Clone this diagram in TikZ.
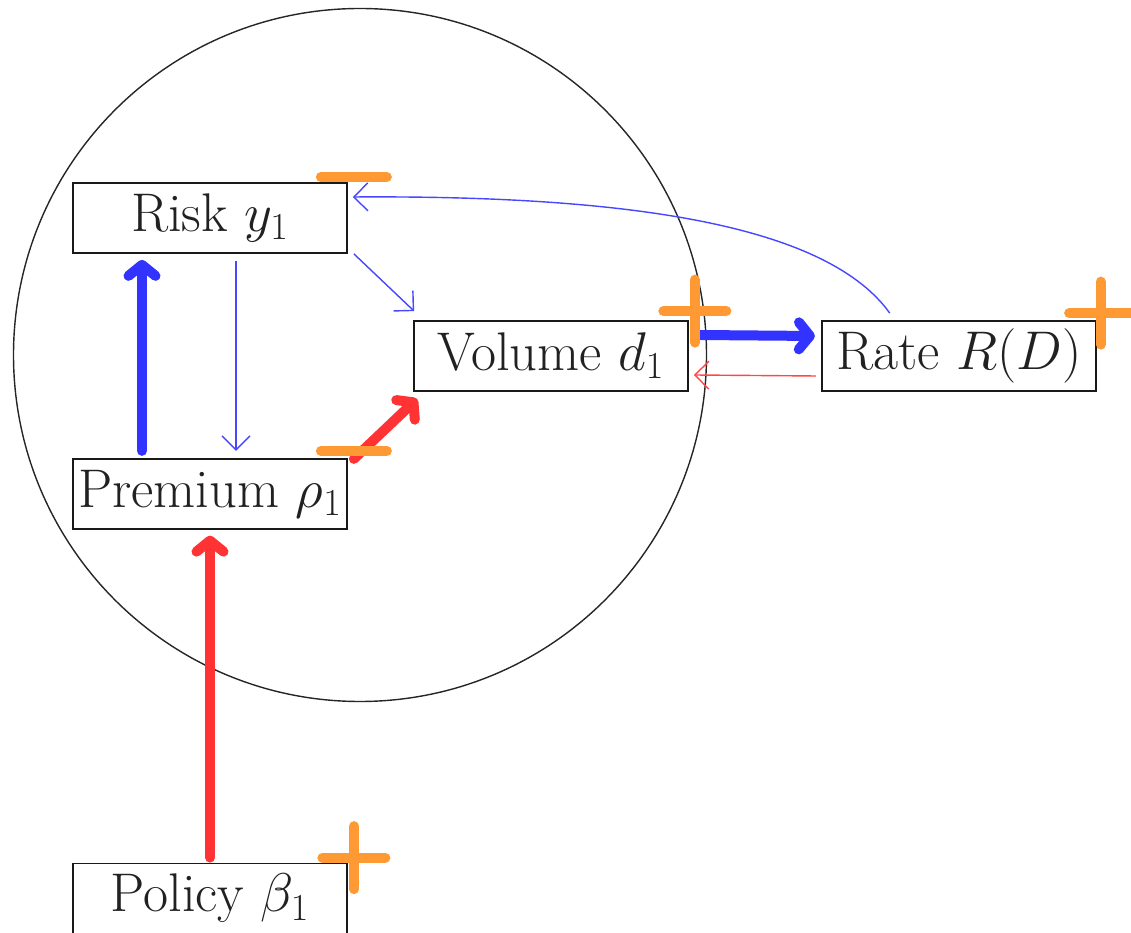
\RequirePackage{fix-cm}
\documentclass[tikz,border=0pt]{standalone}
\usepackage{xcolor}
\usepackage{tikz}
\usepackage{amsmath}
\usetikzlibrary{arrows.meta, positioning}
\definecolor{LinkBlue}{HTML}{3333FF}
\definecolor{LinkRed}{HTML}{FF3333}
\definecolor{SignOrange}{HTML}{FF9933}

\begin{document}
\begin{tikzpicture}[
    varbox/.style={
      rectangle, draw=black!90, line width=1pt, fill=white, text=black!87,
      minimum width=5.48cm, minimum height=1.4cm, inner sep=0pt,
      font=\fontsize{31}{37}\selectfont
    },
    strong/.style={-{Straight Barb[length=0.22cm, width=0.54cm, round]}, line width=0.2cm, line cap=round},
    weak/.style={-{Straight Barb[length=0.28cm, width=0.56cm]}, line width=0.8pt},
    sign/.style={draw=SignOrange, line width=0.2cm, line cap=round}
  ]
    \useasboundingbox (0,0) rectangle (22.62,-18.66);

    \draw[black!85, line width=0.8pt] (7.2,-7.1) circle (6.93cm);

    \node[varbox] (risk) at (4.2,-4.36) {Risk $y_1$};
    \node[varbox, below=4.08cm of risk] (premium) {Premium $\rho_1$};
    \node[varbox, below=6.66cm of premium] (policy) {Policy $\beta_1$};
    \node[varbox] (volume) at (11.02,-7.12) {Volume $d_1$};
    \node[varbox, right=2.64cm of volume] (rate) {Rate $R(D)$};

    % strong links
    \draw[strong, LinkBlue] ([xshift=-1.36cm, yshift=0.14cm]premium.north) -- ([xshift=-1.36cm, yshift=-0.12cm]risk.south);
    \draw[strong, LinkRed] ([xshift=0.12cm, yshift=-0.02cm]premium.north east) -- ([xshift=0.08cm, yshift=-0.14cm]volume.south west);
    \draw[strong, LinkBlue] ([xshift=0.22cm, yshift=0.42cm]volume.east) -- ([xshift=-0.12cm, yshift=0.4cm]rate.west);
    \draw[strong, LinkRed] ([yshift=0.1cm]policy.north) -- ([yshift=-0.12cm]premium.south);

    % weak links
    \draw[weak, LinkBlue!90] ([xshift=0.52cm, yshift=-0.14cm]risk.south) -- ([xshift=0.52cm, yshift=0.14cm]premium.north);
    \draw[weak, LinkBlue!90] ([xshift=0.12cm]risk.south east) -- ([xshift=0.02cm, yshift=0.18cm]volume.north west);
    \draw[weak, LinkRed!90] ([xshift=-0.1cm, yshift=-0.4cm]rate.west) -- ([xshift=0.1cm, yshift=-0.38cm]volume.east);
    \draw[weak, LinkBlue!90] ([xshift=-1.38cm, yshift=0.14cm]rate.north) .. controls (16.6,-4.6) and (13,-3.9) .. ([xshift=0.1cm, yshift=0.42cm]risk.east);

    % signs
    \coordinate (srisk) at ([shift={(0.12,0.1)}]risk.north east);
    \coordinate (spremium) at ([shift={(0.12,0.14)}]premium.north east);
    \coordinate (svolume) at ([shift={(0.12,0.18)}]volume.north east);
    \coordinate (srate) at ([shift={(0.08,0.14)}]rate.north east);
    \coordinate (spolicy) at ([shift={(0.12,0.1)}]policy.north east);

    \draw[sign] (srisk) +(-0.66,0) -- +(0.66,0);
    \draw[sign] (spremium) +(-0.66,0) -- +(0.66,0);
    \draw[sign] (svolume) +(-0.63,0) -- +(0.63,0) (svolume) +(0,-0.63) -- +(0,0.63);
    \draw[sign] (srate) +(-0.63,0) -- +(0.63,0) (srate) +(0,-0.63) -- +(0,0.63);
    \draw[sign] (spolicy) +(-0.63,0) -- +(0.63,0) (spolicy) +(0,-0.63) -- +(0,0.63);
\end{tikzpicture}
\end{document}
